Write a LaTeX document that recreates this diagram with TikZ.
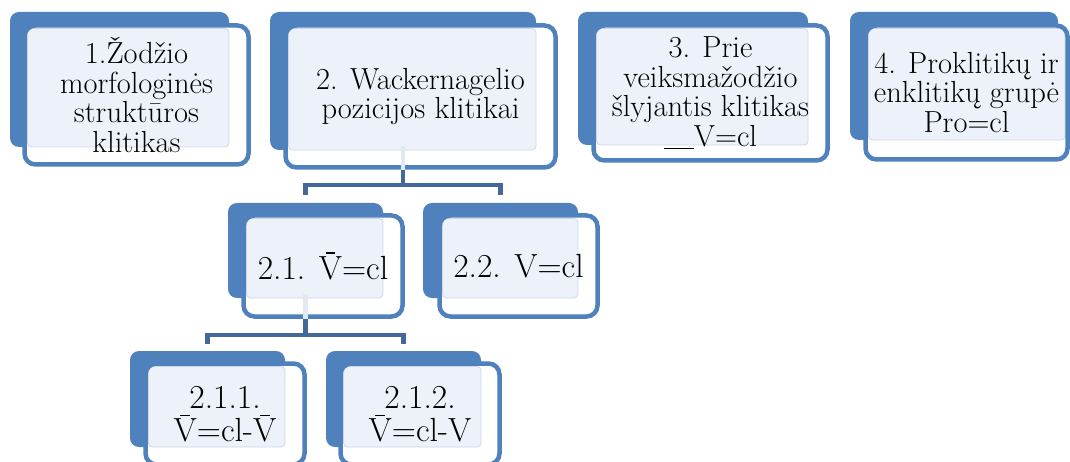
\documentclass[tikz,border=0pt]{standalone}
\usetikzlibrary{calc}
\definecolor{darkblue}{HTML}{4F81BD}
\definecolor{connblue}{HTML}{43699C}
\definecolor{lightfill}{HTML}{EDF1F9}
\definecolor{lightline}{HTML}{CDD7EA}
\definecolor{stubcol}{HTML}{E4E8F0}
\newcommand\Vbr{\leavevmode\setbox0\hbox{V}\rlap{\hbox to \wd0{\hss\raisebox{\dimexpr\ht0+2.5pt\relax}{\rule{0.42\wd0}{1.3pt}}\hss}}V}
\pgfdeclarelayer{lone}\pgfdeclarelayer{ltwo}\pgfdeclarelayer{lthree}
\pgfsetlayers{lone,ltwo,lthree,main}
\tikzset{
  darkrect/.style={fill=darkblue, draw=none, rounded corners=9pt, anchor=north west, inner sep=0pt, outer sep=0pt},
  wbox/.style={draw=darkblue, line width=4.5pt, rounded corners=11pt, inner sep=0pt, outer sep=0pt, align=center},
  topfont/.style={font=\fontsize{30.5}{29.5}\selectfont},
  subfont/.style={font=\fontsize{33.5}{33}\selectfont},
  wfill/.style={fill=white, rounded corners=11pt},
  lightrect/.style={fill=lightfill, draw=lightline, line width=0.8pt, rounded corners=4pt},
  conn/.style={draw=connblue, line width=4.6pt},
  stub/.style={draw=stubcol, line width=4.6pt}
}
\begin{document}
\begin{tikzpicture}[x=1pt,y=-1pt]
\useasboundingbox (0,0) rectangle (1070,462);
% white boxes with text
\node[wbox, topfont, minimum width=224pt, minimum height=139pt] (b1) at (136.5,95) {1.Žodžio\\morfologinės\\struktūros\\klitikas};
\node[wbox, topfont, minimum width=270pt, minimum height=142pt] (b2) at (420.5,96.5) {2. Wackernagelio\\pozicijos klitikai};
\node[wbox, topfont, minimum width=234pt, minimum height=135pt] (b3) at (710.5,93) {3. Prie\\veiksmažodžio\\šlyjantis klitikas\\\rule[-3pt]{30pt}{1.2pt}V=cl};
\node[wbox, topfont, minimum width=202pt, minimum height=134pt] (b4) at (966.5,92.5) {4. Proklitikų ir\\enklitikų grupė\\Pro=cl};
\node[wbox, subfont, minimum width=159pt, minimum height=101pt] (b21) at (323,266) {2.1. \Vbr=cl};
\node[wbox, subfont, minimum width=158pt, minimum height=101pt] (b22) at (518.5,266) {2.2. V=cl};
\node[wbox, subfont, minimum width=159pt, minimum height=101pt] (b211) at (225,414) {2.1.1.\\\Vbr=cl-\Vbr};
\node[wbox, subfont, minimum width=159pt, minimum height=101pt] (b212) at (420,414) {2.1.2.\\\Vbr=cl-V};
% dark header shapes
\begin{pgfonlayer}{lone}
\node[darkrect, minimum width=219pt, minimum height=135pt] (d1) at (10,12) {};
\node[darkrect, minimum width=266pt, minimum height=138pt] (d2) at (270,12) {};
\node[darkrect, minimum width=230pt, minimum height=133pt] (d3) at (578,12) {};
\node[darkrect, minimum width=208pt, minimum height=128pt] (d4) at (850,12) {};
\node[darkrect, minimum width=155pt, minimum height=95pt] (d21) at (228,203) {};
\node[darkrect, minimum width=155pt, minimum height=95pt] (d22) at (423,203) {};
\node[darkrect, minimum width=155pt, minimum height=96pt] (d211) at (130,351) {};
\node[darkrect, minimum width=155pt, minimum height=96pt] (d212) at (326,351) {};
\end{pgfonlayer}
\begin{pgfonlayer}{ltwo}
\foreach \b in {b1,b2,b3,b4,b21,b22,b211,b212}
  \fill[wfill] (\b.north west) rectangle (\b.south east);
\end{pgfonlayer}
\begin{pgfonlayer}{lthree}
\path[lightrect] ([shift={(3,3)}]b1.north west) rectangle (d1.south east);
\path[lightrect] ([shift={(3,3)}]b2.north west) rectangle (d2.south east);
\path[lightrect] ([shift={(3,3)}]b3.north west) rectangle (d3.south east);
\path[lightrect] ([shift={(3,3)}]b4.north west) rectangle ([shift={(7,0)}]d4.south east);
\path[lightrect] ([shift={(3,3)}]b21.north west) rectangle (d21.south east);
\path[lightrect] ([shift={(3,3)}]b22.north west) rectangle (d22.south east);
\path[lightrect] ([shift={(3,3)}]b211.north west) rectangle (d211.south east);
\path[lightrect] ([shift={(3,3)}]b212.north west) rectangle (d212.south east);
\end{pgfonlayer}
% connectors
\coordinate (j2) at (d2.south |- 0,185);
\coordinate (t21) at (d21.north |- 0,195);
\coordinate (t22) at (d22.north |- 0,195);
\coordinate (j21) at (d21.south |- 0,335);
\coordinate (t211) at (d211.north |- 0,344);
\coordinate (t212) at (d212.north |- 0,344);
\draw[stub] ([yshift=4pt]d2.south) -- ([yshift=-2.5pt]d2.south |- b2.south);
\draw[stub] ([yshift=4pt]d21.south) -- ([yshift=-2.5pt]d21.south |- b21.south);
\draw[conn] ([yshift=-2.2pt]d2.south |- b2.south) -- (j2);
\draw[conn] (t21) |- (j2) -| (t22);
\draw[conn] ([yshift=-2.2pt]d21.south |- b21.south) -- (j21);
\draw[conn] (t211) |- (j21) -| (t212);
\end{tikzpicture}
\end{document}
